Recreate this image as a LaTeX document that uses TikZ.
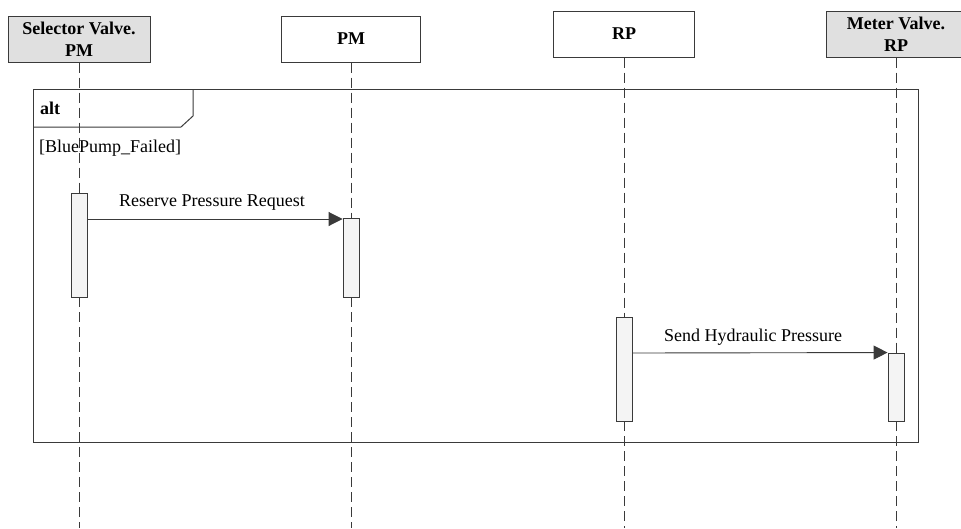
\documentclass[tikz,border=0pt]{standalone}
\usepackage{fontspec}
\setmainfont{Liberation Serif}
\usetikzlibrary{arrows.meta}
\definecolor{linec}{HTML}{3A3A3A}
\definecolor{headgray}{HTML}{E0E0E0}
\definecolor{barfill}{HTML}{F4F4F4}
\begin{document}
\begin{tikzpicture}[x=1pt,y=-1pt,
  every node/.style={font=\fontsize{18}{22}\selectfont},
  head/.style={draw=linec,line width=1pt,minimum height=46pt,inner sep=0pt,align=center,font=\fontsize{18}{22}\selectfont\bfseries},
  actbar/.style={draw=linec,line width=0.9pt,fill=barfill,minimum width=16pt,inner sep=0pt},
  life/.style={draw=linec,line width=0.9pt,dash pattern=on 10pt off 5pt},
  msg/.style={draw=linec,line width=0.9pt,-{Triangle[length=14pt,width=14pt]}},
  lbl/.style={anchor=base,inner sep=0pt}]
\useasboundingbox (0,0) rectangle (961,528);
\fill[white] (0,0) rectangle (961,528);
% heads
\node[head,fill=headgray,minimum width=142pt] (h1) at (79,39) {Selector Valve.\\PM};
\node[head,fill=white,minimum width=139pt] (h2) at (351,39) {PM};
\node[head,fill=white,minimum width=141pt] (h3) at (624,34) {RP};
\node[head,fill=headgray,minimum width=140pt] (h4) at (896,34) {Meter Valve.\\RP};
% activation bars
\node[actbar,minimum height=104pt] (b1) at (79,245) {};
\node[actbar,minimum height=79pt] (b2) at (351,257.5) {};
\node[actbar,minimum height=104pt] (b3) at (624,369) {};
\node[actbar,minimum height=68pt] (b4) at (896,387) {};
% bottom ends
\coordinate (e1) at (79,528);
\coordinate (e2) at (351,528);
\coordinate (e3) at (624,528);
\coordinate (e4) at (896,528);
% lifelines
\draw[life] (h1.south) -- (b1.north);
\draw[life] (b1.south) -- (e1);
\draw[life] (h2.south) -- (b2.north);
\draw[life] (b2.south) -- (e2);
\draw[life] (h3.south) -- (b3.north);
\draw[life] (b3.south) -- (e3);
\draw[life] (h4.south) -- (b4.north);
\draw[life] (b4.south) -- (e4);
% alt frame
\draw[linec,line width=1pt] (33,89) rectangle (918,442);
\draw[linec,line width=1pt] (33,127) -- (181,127) -- (193,116) -- (193,89);
\node[lbl,font=\fontsize{18}{22}\selectfont\bfseries,anchor=base west] (alt) at (40,114) {alt};
\node[lbl,anchor=base west] (guard) at (39,152) {[BluePump\_Failed]};
% messages
\draw[msg] (b1.east |- 0,219) -- (b2.west |- 0,219);
\node[lbl] (m1) at (212,206) {Reserve Pressure Request};
\draw[msg] (b3.east |- 0,353) -- (b4.north west);
\node[lbl] (m2) at (753,341) {Send Hydraulic Pressure};
\end{tikzpicture}
\end{document}
